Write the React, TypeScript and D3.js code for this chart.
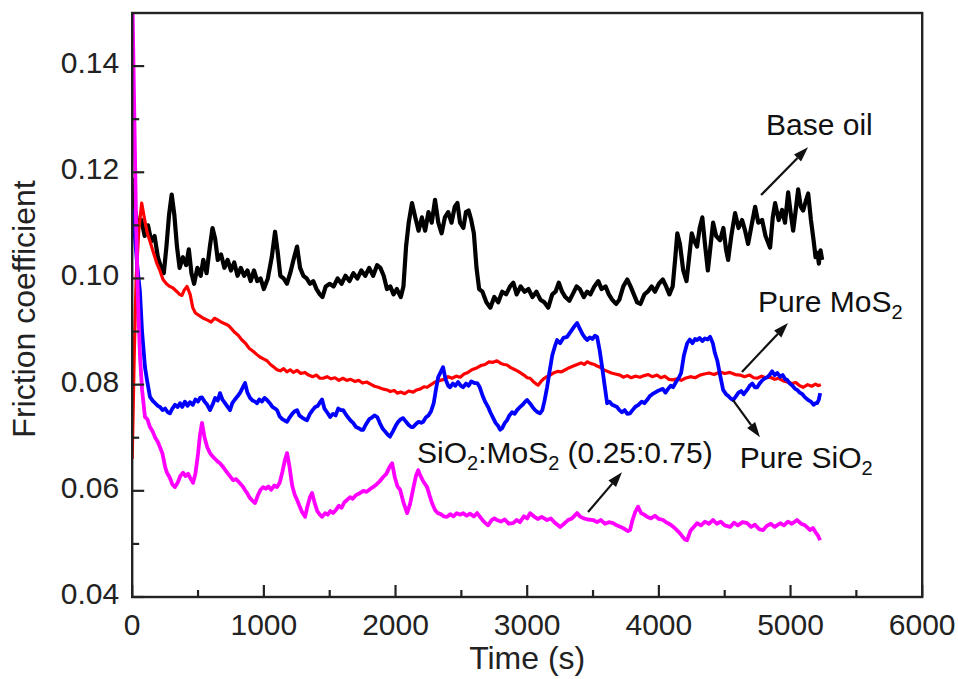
import React from "react";
import * as d3 from "d3";

type P = [number, number];

const baseOil: P[] = [
  [0,0.119],[20,0.113],[45,0.110],[70,0.111],[95,0.108],[120,0.110],[145,0.107],[170,0.108],[195,0.104],[220,0.102],
  [240,0.101],[260,0.106],[280,0.112],[300,0.1158],[320,0.112],[340,0.106],[360,0.102],[385,0.104],[410,0.1025],[430,0.1055],
  [450,0.101],[470,0.099],[495,0.102],[520,0.1005],[540,0.1035],[565,0.101],[590,0.106],[610,0.1095],[630,0.1075],[650,0.1035],
  [675,0.1045],[700,0.102],[725,0.1035],[750,0.1015],[775,0.103],[800,0.1005],[825,0.102],[850,0.1005],[875,0.1015],[900,0.0995],
  [925,0.1015],[950,0.0995],[975,0.1],[1000,0.098],[1030,0.1],[1060,0.104],[1085,0.1088],[1105,0.105],[1125,0.1005],[1150,0.1],
  [1175,0.099],[1200,0.101],[1230,0.104],[1252,0.106],[1275,0.102],[1300,0.1005],[1325,0.1],[1350,0.099],[1375,0.0995],[1400,0.098],
  [1425,0.097],[1445,0.0965],[1470,0.0985],[1500,0.099],[1530,0.0985],[1560,0.1],[1590,0.099],[1620,0.1005],[1650,0.0995],[1680,0.101],
  [1710,0.1],[1740,0.1015],[1770,0.1005],[1800,0.102],[1830,0.1005],[1860,0.1025],[1885,0.102],[1910,0.1005],[1935,0.098],[1960,0.0985],
  [1985,0.097],[2010,0.098],[2040,0.0965],[2060,0.0985],[2080,0.106],[2100,0.1105],[2125,0.1142],[2150,0.1115],[2175,0.109],[2200,0.1115],
  [2225,0.109],[2250,0.1125],[2275,0.1105],[2300,0.1148],[2325,0.1105],[2350,0.1085],[2375,0.1115],[2400,0.1125],[2425,0.1105],[2450,0.1135],
  [2470,0.1142],[2490,0.1105],[2515,0.1095],[2535,0.1125],[2555,0.1128],[2575,0.111],[2595,0.1085],[2615,0.102],[2635,0.098],[2660,0.0975],
  [2690,0.0955],[2720,0.0945],[2750,0.0965],[2780,0.0955],[2810,0.0975],[2840,0.097],[2870,0.0985],[2895,0.0992],[2920,0.097],[2950,0.0985],
  [2980,0.0975],[3010,0.098],[3040,0.0965],[3070,0.0975],[3100,0.096],[3130,0.0955],[3160,0.0945],[3190,0.097],[3215,0.0975],[3240,0.0992],
  [3265,0.0975],[3290,0.0965],[3320,0.0958],[3345,0.097],[3375,0.0985],[3400,0.098],[3430,0.0965],[3455,0.0975],[3480,0.097],[3510,0.0985],
  [3540,0.0995],[3565,0.098],[3595,0.0985],[3620,0.097],[3645,0.096],[3675,0.0952],[3700,0.096],[3730,0.0985],[3760,0.0998],[3785,0.0985],
  [3810,0.097],[3835,0.0955],[3860,0.0952],[3890,0.097],[3915,0.0975],[3945,0.0985],[3970,0.0975],[4000,0.099],[4030,0.0998],[4055,0.0985],
  [4080,0.097],[4105,0.0985],[4125,0.104],[4140,0.1085],[4160,0.1065],[4185,0.1015],[4210,0.0995],[4230,0.104],[4250,0.1085],[4270,0.107],
  [4290,0.106],[4310,0.1095],[4330,0.1115],[4350,0.1065],[4372,0.1015],[4392,0.106],[4412,0.1105],[4435,0.108],[4465,0.1072],[4490,0.1095],
  [4510,0.1055],[4526,0.1035],[4550,0.108],[4579,0.1123],[4605,0.1095],[4632,0.111],[4655,0.109],[4678,0.1065],[4700,0.1095],[4731,0.1135],
  [4755,0.1105],[4784,0.111],[4810,0.108],[4845,0.1058],[4865,0.1115],[4883,0.1142],[4910,0.111],[4936,0.1129],[4958,0.1105],[4982,0.1162],
  [5000,0.1125],[5020,0.109],[5040,0.113],[5058,0.1168],[5078,0.1135],[5096,0.1128],[5115,0.1145],[5134,0.116],[5155,0.111],[5175,0.1072],
  [5190,0.104],[5205,0.1048],[5215,0.1028],[5228,0.1053],[5240,0.1035]
];

const pureMoS2: P[] = [
  [0,0.066],[15,0.085],[30,0.100],[50,0.109],[72,0.1142],[95,0.111],[115,0.1085],[135,0.107],[160,0.105],[185,0.103],
  [210,0.1015],[234,0.0998],[260,0.099],[285,0.0985],[310,0.0982],[340,0.0975],[360,0.097],[378,0.0968],[395,0.0978],[416,0.0985],
  [440,0.097],[460,0.0945],[480,0.0935],[510,0.093],[540,0.0925],[568,0.0922],[600,0.0918],[625,0.0925],[650,0.0922],[675,0.0918],
  [700,0.0915],[728,0.0912],[755,0.0905],[780,0.0898],[805,0.0893],[830,0.0885],[860,0.0878],[890,0.0868],[918,0.0863],[945,0.0857],
  [970,0.0852],[1000,0.0848],[1024,0.0845],[1050,0.0838],[1075,0.0833],[1100,0.0828],[1125,0.0826],[1150,0.083],[1175,0.0824],[1200,0.0828],
  [1225,0.0823],[1252,0.0827],[1280,0.0821],[1310,0.0823],[1340,0.0818],[1370,0.0815],[1400,0.0818],[1425,0.0812],[1450,0.0812],[1480,0.0815],
  [1510,0.0811],[1540,0.0813],[1570,0.0808],[1600,0.0812],[1630,0.0808],[1660,0.081],[1690,0.0806],[1720,0.0808],[1750,0.0803],[1780,0.0805],
  [1810,0.0801],[1840,0.0797],[1870,0.0795],[1900,0.0792],[1936,0.079],[1960,0.0787],[1990,0.0789],[2015,0.0784],[2040,0.0786],[2070,0.0783],
  [2100,0.0788],[2134,0.0786],[2160,0.079],[2190,0.0792],[2215,0.0796],[2240,0.0795],[2270,0.08],[2300,0.0805],[2339,0.0808],[2370,0.081],
  [2400,0.0815],[2430,0.0812],[2460,0.0816],[2491,0.0814],[2520,0.082],[2550,0.0823],[2580,0.0828],[2620,0.0832],[2650,0.0836],[2680,0.0838],
  [2710,0.0843],[2741,0.0842],[2770,0.0845],[2800,0.084],[2825,0.0838],[2847,0.0837],[2875,0.0832],[2900,0.0829],[2925,0.0826],[2950,0.0822],
  [2975,0.0818],[3000,0.0813],[3022,0.0812],[3045,0.0806],[3065,0.0802],[3083,0.0799],[3105,0.0806],[3130,0.0812],[3150,0.0815],[3174,0.0818],
  [3200,0.0822],[3230,0.0825],[3260,0.0824],[3290,0.0828],[3320,0.0832],[3350,0.0835],[3380,0.0838],[3410,0.0841],[3435,0.0838],[3455,0.0843],
  [3480,0.084],[3510,0.0838],[3530,0.0835],[3553,0.0833],[3580,0.0828],[3610,0.0825],[3640,0.0822],[3670,0.082],[3705,0.0818],[3730,0.0814],
  [3760,0.0817],[3790,0.0813],[3820,0.0816],[3857,0.0814],[3890,0.0817],[3920,0.0819],[3950,0.0815],[3986,0.0818],[4015,0.0813],[4045,0.0816],
  [4075,0.081],[4108,0.0809],[4140,0.0811],[4170,0.0808],[4200,0.0812],[4240,0.0815],[4275,0.0813],[4312,0.0818],[4345,0.082],[4380,0.0822],
  [4420,0.0819],[4465,0.0824],[4500,0.0821],[4540,0.0823],[4580,0.0819],[4617,0.0818],[4650,0.0815],[4690,0.0818],[4720,0.0813],[4747,0.0812],
  [4780,0.0816],[4810,0.0813],[4845,0.0814],[4880,0.081],[4910,0.0812],[4945,0.0807],[4974,0.0805],[5010,0.0802],[5040,0.0804],[5070,0.0798],
  [5096,0.0795],[5130,0.08],[5160,0.0797],[5190,0.0801],[5210,0.0798],[5230,0.08]
];

const pureSiO2: P[] = [
  [0,0.113],[20,0.108],[40,0.102],[59,0.0975],[75,0.09],[97,0.0833],[115,0.0805],[135,0.0777],[155,0.077],
  [175,0.0765],[195,0.076],[211,0.0758],[230,0.0752],[250,0.0755],[270,0.0748],[287,0.0746],[305,0.0755],[325,0.0762],[345,0.0758],
  [363,0.0765],[380,0.0758],[400,0.0768],[420,0.076],[439,0.0767],[460,0.0762],[480,0.0772],[500,0.0768],[515,0.0775],[530,0.0776],
  [550,0.0768],[570,0.0762],[591,0.0752],[610,0.0762],[630,0.0775],[650,0.077],[667,0.0784],[685,0.0772],[705,0.0765],[725,0.0758],
  [743,0.0752],[760,0.0765],[780,0.0772],[800,0.0778],[820,0.0785],[840,0.0795],[857,0.0803],[875,0.0785],[895,0.0775],[915,0.077],
  [933,0.0768],[948,0.0765],[965,0.0772],[985,0.0768],[1005,0.0775],[1024,0.0771],[1045,0.0765],[1065,0.0758],[1085,0.0755],[1100,0.0752],
  [1120,0.074],[1140,0.0735],[1160,0.0732],[1176,0.073],[1195,0.0738],[1215,0.0745],[1235,0.075],[1252,0.0752],[1270,0.0742],[1290,0.0738],
  [1310,0.0735],[1328,0.0733],[1350,0.0745],[1370,0.0752],[1390,0.0758],[1410,0.076],[1430,0.0768],[1442,0.0772],[1460,0.0755],[1480,0.0748],
  [1503,0.0739],[1525,0.0745],[1545,0.0742],[1565,0.0755],[1585,0.0752],[1602,0.0752],[1620,0.0745],[1640,0.0738],[1660,0.0732],[1678,0.0728],
  [1700,0.072],[1720,0.0718],[1740,0.0715],[1754,0.0715],[1775,0.0725],[1800,0.0735],[1820,0.0738],[1840,0.0742],[1861,0.0739],[1880,0.0728],
  [1900,0.0718],[1920,0.0712],[1940,0.0706],[1958,0.0702],[1980,0.0712],[2000,0.0722],[2020,0.073],[2040,0.0735],[2058,0.0737],[2080,0.073],
  [2100,0.0724],[2120,0.072],[2134,0.072],[2155,0.0726],[2175,0.073],[2195,0.0728],[2210,0.073],[2230,0.0738],[2250,0.0742],[2270,0.075],
  [2290,0.0765],[2305,0.0788],[2324,0.0814],[2340,0.0822],[2361,0.0833],[2380,0.081],[2400,0.0798],[2414,0.0795],[2435,0.0802],[2455,0.0798],
  [2475,0.0805],[2495,0.0798],[2513,0.0795],[2535,0.0802],[2555,0.0798],[2575,0.0806],[2600,0.0803],[2620,0.0803],[2640,0.0795],[2660,0.078],
  [2680,0.0768],[2703,0.0758],[2720,0.0748],[2740,0.0738],[2760,0.0728],[2780,0.0722],[2794,0.0715],[2810,0.0718],[2830,0.0728],[2847,0.0733],
  [2865,0.0742],[2885,0.0748],[2905,0.0745],[2923,0.0752],[2945,0.0758],[2965,0.0762],[2985,0.0768],[2999,0.0771],[3020,0.0765],[3040,0.0758],
  [3060,0.0752],[3080,0.0748],[3097,0.0746],[3115,0.0752],[3130,0.0768],[3151,0.0795],[3170,0.0825],[3190,0.0855],[3210,0.0872],[3227,0.0884],
  [3250,0.0878],[3275,0.0888],[3303,0.089],[3325,0.0898],[3345,0.0905],[3365,0.0912],[3379,0.0916],[3400,0.0905],[3420,0.0895],[3440,0.0888],
  [3455,0.0884],[3475,0.0889],[3495,0.0886],[3515,0.0892],[3531,0.089],[3550,0.0865],[3569,0.0833],[3590,0.0795],[3607,0.0765],[3625,0.0768],
  [3645,0.0762],[3665,0.076],[3682,0.0758],[3700,0.0752],[3720,0.0748],[3740,0.0752],[3760,0.0745],[3781,0.0746],[3800,0.0752],[3820,0.0758],
  [3845,0.0762],[3870,0.0768],[3890,0.0765],[3910,0.0771],[3930,0.0778],[3950,0.0782],[3970,0.0785],[3990,0.0788],[4009,0.079],[4030,0.0792],
  [4050,0.0785],[4070,0.0792],[4090,0.0798],[4108,0.0795],[4130,0.0805],[4150,0.0812],[4169,0.0822],[4190,0.0855],[4215,0.0878],[4235,0.0885],
  [4255,0.0878],[4275,0.0886],[4290,0.0884],[4310,0.0888],[4330,0.0882],[4350,0.0887],[4370,0.0885],[4389,0.089],[4410,0.0878],[4425,0.086],
  [4443,0.0846],[4465,0.0818],[4488,0.079],[4510,0.0782],[4530,0.0778],[4550,0.0773],[4564,0.0771],[4585,0.0778],[4605,0.0785],[4625,0.0788],
  [4645,0.0782],[4670,0.079],[4690,0.0798],[4710,0.0802],[4730,0.0795],[4747,0.0795],[4765,0.0802],[4785,0.0808],[4805,0.0812],[4823,0.0814],
  [4840,0.0818],[4860,0.0825],[4880,0.0818],[4899,0.0822],[4920,0.0815],[4940,0.0818],[4960,0.081],[4974,0.0809],[4995,0.0802],[5015,0.0798],
  [5035,0.0792],[5050,0.079],[5070,0.0785],[5090,0.0782],[5110,0.0776],[5134,0.0771],[5155,0.0768],[5175,0.0762],[5190,0.0765],[5202,0.0765],
  [5215,0.0772],[5225,0.0784]
];

const mixture: P[] = [
  [0,0.155],[10,0.14],[20,0.125],[30,0.11],[45,0.095],[60,0.085],[75,0.079],[97,0.0739],[115,0.0735],[135,0.072],
  [155,0.0712],[175,0.07],[195,0.0692],[211,0.0682],[230,0.067],[250,0.0645],[264,0.0634],[285,0.0625],[305,0.0612],[325,0.0607],
  [345,0.0615],[365,0.0628],[386,0.0634],[405,0.0628],[425,0.0632],[445,0.0622],[462,0.0615],[480,0.0632],[500,0.067],[515,0.0705],
  [530,0.0728],[550,0.07],[570,0.0682],[591,0.0671],[610,0.0665],[630,0.066],[650,0.0655],[667,0.0652],[690,0.0645],[710,0.0638],
  [735,0.063],[766,0.062],[790,0.0622],[815,0.0615],[840,0.0608],[860,0.06],[872,0.0596],[890,0.0588],[910,0.0582],[933,0.0577],
  [955,0.0592],[975,0.0602],[994,0.0607],[1015,0.0604],[1035,0.0608],[1055,0.0602],[1080,0.061],[1100,0.0607],[1120,0.0615],[1140,0.0635],
  [1160,0.0658],[1176,0.0671],[1195,0.0645],[1215,0.061],[1235,0.0592],[1252,0.0583],[1270,0.0572],[1290,0.056],[1313,0.0551],[1330,0.057],
  [1350,0.0588],[1366,0.0596],[1385,0.0578],[1405,0.0562],[1425,0.0555],[1442,0.0551],[1465,0.0558],[1485,0.0555],[1505,0.0562],[1526,0.0558],
  [1550,0.0565],[1570,0.0572],[1590,0.0568],[1610,0.0578],[1632,0.0583],[1655,0.0588],[1675,0.0585],[1700,0.0592],[1731,0.0596],[1755,0.06],
  [1780,0.0598],[1810,0.0604],[1830,0.0607],[1855,0.0612],[1880,0.0618],[1906,0.0626],[1930,0.0632],[1955,0.0645],[1974,0.0652],[1995,0.0625],
  [2015,0.0608],[2035,0.0602],[2060,0.0578],[2088,0.0558],[2110,0.0575],[2135,0.0605],[2155,0.0628],[2172,0.0639],[2190,0.0628],[2210,0.0618],
  [2240,0.0607],[2260,0.059],[2280,0.0575],[2300,0.0564],[2320,0.0558],[2345,0.0556],[2365,0.0552],[2391,0.0551],[2415,0.0556],[2440,0.0552],
  [2465,0.0558],[2490,0.0555],[2513,0.0558],[2540,0.0553],[2565,0.0557],[2595,0.0552],[2620,0.0558],[2642,0.0551],[2670,0.0542],[2703,0.0535],
  [2730,0.0545],[2750,0.0548],[2771,0.0545],[2800,0.0542],[2830,0.0546],[2860,0.0538],[2893,0.0539],[2920,0.0545],[2945,0.0541],[2975,0.0552],
  [3000,0.0548],[3022,0.0558],[3050,0.0552],[3080,0.0547],[3110,0.0551],[3151,0.0545],[3180,0.0548],[3210,0.054],[3230,0.0536],[3250,0.0532],
  [3280,0.0538],[3310,0.0545],[3340,0.0548],[3379,0.0558],[3400,0.0552],[3430,0.0548],[3460,0.0546],[3501,0.0545],[3530,0.0541],[3560,0.0545],
  [3590,0.0538],[3620,0.0541],[3652,0.0539],[3680,0.0535],[3710,0.0532],[3740,0.0528],[3765,0.0524],[3781,0.0526],[3800,0.0545],[3820,0.056],
  [3842,0.057],[3865,0.0558],[3890,0.0555],[3910,0.0551],[3940,0.0548],[3970,0.0553],[4000,0.0547],[4032,0.0545],[4060,0.054],[4090,0.0536],
  [4120,0.053],[4140,0.0525],[4161,0.052],[4185,0.0512],[4200,0.0508],[4215,0.0507],[4240,0.0525],[4265,0.0532],[4290,0.0539],[4320,0.0535],
  [4350,0.0542],[4380,0.0538],[4412,0.0545],[4440,0.0538],[4470,0.0542],[4500,0.0535],[4541,0.0532],[4570,0.054],[4600,0.0535],[4635,0.0541],
  [4670,0.0539],[4700,0.0532],[4730,0.0536],[4760,0.0528],[4792,0.0526],[4820,0.0534],[4850,0.0538],[4880,0.0532],[4921,0.0539],[4950,0.0535],
  [4980,0.0542],[5010,0.0538],[5050,0.0545],[5080,0.0538],[5110,0.0535],[5149,0.0526],[5170,0.053],[5190,0.0522],[5210,0.0515],[5225,0.0507]
];

const xMajorTicks = [0, 1000, 2000, 3000, 4000, 5000, 6000];
const xMinorTicks = [500, 1500, 2500, 3500, 4500, 5500];
const yMajorTicks = [0.04, 0.06, 0.08, 0.10, 0.12, 0.14];
const yMinorTicks = [0.05, 0.07, 0.09, 0.11, 0.13];

const seriesList = [
  { name: "Base oil", data: baseOil, color: "#000000", width: 4.2 },
  { name: "Pure MoS2", data: pureMoS2, color: "#ff0000", width: 3.2 },
  { name: "Pure SiO2", data: pureSiO2, color: "#0000ff", width: 3.8 },
  { name: "SiO2:MoS2", data: mixture, color: "#ff00ff", width: 3.8 },
];

// annotation anchors in data coordinates: [t, value]
const annotations = [
  { parts: [["Base oil", false]], text: [4814, 0.1270], tail: [4776, 0.1157], head: [5133, 0.1247] },
  { parts: [["Pure MoS", false], ["2", true]], text: [4753, 0.0937], tail: [4631, 0.0824], head: [4981, 0.0916] },
  { parts: [["Pure SiO", false], ["2", true]], text: [4615, 0.0643], tail: [4563, 0.0771], head: [4768, 0.0701] },
  { parts: [["SiO", false], ["2", true], [":MoS", false], ["2", true], [" (0.25:0.75)", false]], text: [2163, 0.0652], tail: [3462, 0.0560], head: [3720, 0.0635] },
];

const W = 958, H = 679;
const left = 132.2, right = 922.2, top = 13, bottom = 597;
const FONT = "'Liberation Sans', Arial, Helvetica, sans-serif";

export default function App() {
  const x = d3.scaleLinear().domain([0, 6000]).range([left, right]);
  const y = d3.scaleLinear().domain([0.04, 0.15]).range([bottom, top]);
  const line = d3.line<P>().x(d => x(d[0])).y(d => y(d[1]));
  const fmtY = d3.format(".2f");

  const arrow = (x1: number, y1: number, x2: number, y2: number, key: string) => {
    const ang = Math.atan2(y2 - y1, x2 - x1);
    const L = 15, Wd = 5;
    const bx = x2 - L * Math.cos(ang), by = y2 - L * Math.sin(ang);
    const px = -Math.sin(ang) * Wd, py = Math.cos(ang) * Wd;
    return (
      <g key={key}>
        <line x1={x1} y1={y1} x2={bx} y2={by} stroke="#111" strokeWidth={2.2} />
        <path d={`M${x2},${y2}L${bx + px},${by + py}L${bx - px},${by - py}Z`} fill="#111" />
      </g>
    );
  };

  return (
    <svg width={W} height={H} style={{ position: "absolute", left: 0, top: 0, background: "#fff" }} fontFamily={FONT}>
      <rect x={0} y={0} width={W} height={H} fill="#fff" />
      <defs>
        <clipPath id="plotclip">
          <rect x={left} y={top} width={right - left} height={bottom - top} />
        </clipPath>
      </defs>
      <g clipPath="url(#plotclip)">
        {seriesList.map(s => (
          <path key={s.name} d={line(s.data) || ""} fill="none" stroke={s.color} strokeWidth={s.width} strokeLinejoin="round" />
        ))}
      </g>
      {/* frame */}
      <rect x={left} y={top} width={right - left} height={bottom - top} fill="none" stroke="#222" strokeWidth={2.4} />
      {/* x ticks */}
      {xMajorTicks.map(t => (
        <g key={"xM" + t}>
          <line x1={x(t)} x2={x(t)} y1={bottom} y2={bottom - 12} stroke="#222" strokeWidth={2.2} />
          <text x={x(t)} y={bottom + 38} textAnchor="middle" fontSize={30} fill="#222">{String(t)}</text>
        </g>
      ))}
      {xMinorTicks.map(t => (
        <line key={"xm" + t} x1={x(t)} x2={x(t)} y1={bottom} y2={bottom - 7} stroke="#222" strokeWidth={2.2} />
      ))}
      {/* y ticks */}
      {yMajorTicks.map(v => (
        <g key={"yM" + v}>
          <line x1={left} x2={left + 12} y1={y(v)} y2={y(v)} stroke="#222" strokeWidth={2.2} />
          <text x={left - 13} y={y(v) + 7} textAnchor="end" fontSize={30} fill="#222">{fmtY(v)}</text>
        </g>
      ))}
      {yMinorTicks.map(v => (
        <line key={"ym" + v} x1={left} x2={left + 7} y1={y(v)} y2={y(v)} stroke="#222" strokeWidth={2.2} />
      ))}
      {/* axis titles */}
      <text x={(left + right) / 2} y={669} textAnchor="middle" fontSize={32} fill="#222">Time (s)</text>
      <text transform={`translate(35,${(top + bottom) / 2 + 4}) rotate(-90)`} textAnchor="middle" fontSize={32} fill="#222">Friction coefficient</text>
      {/* annotations */}
      {annotations.map((a, i) => (
        <g key={"ann" + i}>
          <text x={x(a.text[0] as number)} y={y(a.text[1] as number)} fontSize={30} fill="#111">
            {(a.parts as [string, boolean][]).map(([s, sub], j) =>
              sub ? (
                <tspan key={j} fontSize={20} dy={7}>{s}</tspan>
              ) : (
                <tspan key={j} dy={j > 0 && (a.parts as [string, boolean][])[j - 1][1] ? -7 : 0}>{s}</tspan>
              )
            )}
          </text>
          {arrow(x(a.tail[0] as number), y(a.tail[1] as number), x(a.head[0] as number), y(a.head[1] as number), "arr" + i)}
        </g>
      ))}
    </svg>
  );
}
